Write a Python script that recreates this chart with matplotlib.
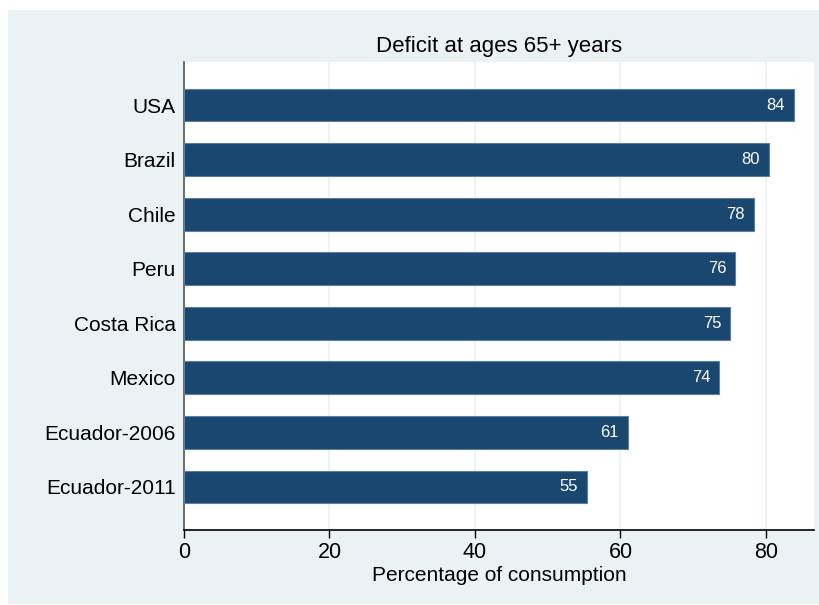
import matplotlib
matplotlib.use('Agg')
import matplotlib.pyplot as plt
from matplotlib.patches import Rectangle

countries = ['USA', 'Brazil', 'Chile', 'Peru', 'Costa Rica', 'Mexico',
             'Ecuador-2006', 'Ecuador-2011']
deficit = [83.8, 80.4, 78.3, 75.8, 75.1, 73.6, 61.0, 55.4]
x_ticks = [0, 20, 40, 60, 80]

plt.rcParams['font.family'] = ['Liberation Sans', 'DejaVu Sans']

bg = '#eaf2f3'
navy = '#1a476f'

fig = plt.figure(figsize=(8.2, 6.05), dpi=100, facecolor='white')
fig.patches.append(Rectangle((8 / 820, 1 / 605), 811 / 820, 594 / 605,
                             transform=fig.transFigure, facecolor=bg,
                             edgecolor='none', zorder=-10))

ax = fig.add_axes([184 / 820, 75 / 605, 630 / 820, 468 / 605])
ax.set_facecolor('white')

ypos = list(range(len(countries)))
ax.barh(ypos, deficit, height=0.6, color=navy, edgecolor='#5b7fa0',
        linewidth=0.8, zorder=3)

# value labels inside the bar ends
for y, v in zip(ypos, deficit):
    ax.text(v - 1.2, y, f'{v:.0f}', color='white', ha='right', va='center',
            fontsize=12, zorder=4)

ax.set_xlim(0, 86.6)
ax.set_ylim(len(countries) - 1 + 0.79, -0.79)
ax.set_yticks(ypos)
ax.set_yticklabels(countries, fontsize=15)
ax.set_xticks(x_ticks)
ax.tick_params(axis='x', labelsize=15.5, length=6, width=1, direction='out',
               colors='black', pad=3)
ax.tick_params(axis='y', length=0, pad=6)

ax.grid(axis='x', color=bg, linewidth=1.2, zorder=0)
for s in ['top', 'right']:
    ax.spines[s].set_visible(False)
ax.spines['left'].set_color('#555555')
ax.spines['left'].set_linewidth(1.2)
ax.spines['bottom'].set_color('black')
ax.spines['bottom'].set_linewidth(1.2)

ax.set_xlabel('Percentage of consumption', fontsize=15, labelpad=2)
ax.set_title('Deficit at ages 65+ years', fontsize=16, pad=7)

fig.savefig('out.png', dpi=100, facecolor='white')
